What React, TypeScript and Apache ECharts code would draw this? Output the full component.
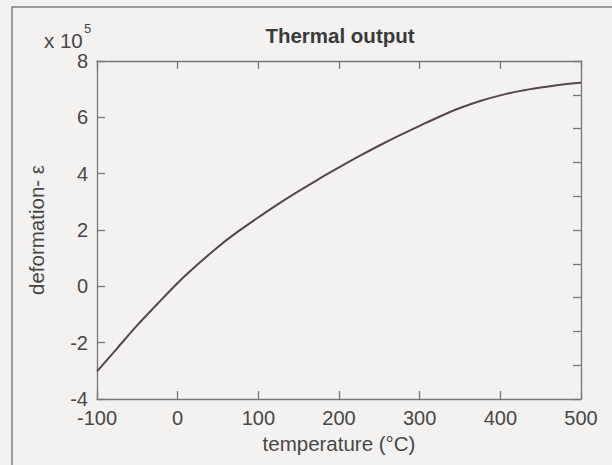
import React, { useEffect, useRef } from "react";
import * as echarts from "echarts";

const temperatures = [
  -100, -75, -50, -25, 0, 25, 50, 75, 100, 125, 150, 175, 200, 225, 250, 275, 300, 325, 350, 375, 400, 425, 450, 475, 500,
];
const deformation = [
  -3.02, -2.2, -1.38, -0.62, 0.12, 0.78, 1.4, 1.95, 2.45, 2.93, 3.38, 3.81, 4.22, 4.62, 5.0, 5.36, 5.7, 6.03, 6.33, 6.58,
  6.78, 6.94, 7.06, 7.16, 7.23,
];

const titleText = "Thermal output";
const xName = "temperature (\u00b0C)";
const yName = "deformation- \u03b5";

export default function App() {
  const ref = useRef<HTMLDivElement>(null);
  useEffect(() => {
    if (!ref.current) return;
    const chart = echarts.init(ref.current, undefined, { renderer: "svg" });
    const textColor = "#474747";
    const axisColor = "#777777";
    const font = "'Liberation Sans', Arial, sans-serif";
    const tickCommon = { show: true, inside: true, length: 8, lineStyle: { color: axisColor, width: 1.3 } };
    chart.setOption({
      animation: false,
      backgroundColor: "#f4f2f1",
      grid: { left: 97, top: 61, right: 31, bottom: 66, containLabel: false },
      xAxis: [
        {
          type: "value",
          min: -100,
          max: 500,
          interval: 100,
          position: "bottom",
          name: xName,
          nameLocation: "middle",
          nameGap: 34,
          nameTextStyle: { color: textColor, fontSize: 20.5, fontFamily: font },
          axisLine: { show: true, onZero: false, lineStyle: { color: axisColor, width: 1.3 } },
          axisTick: tickCommon,
          axisLabel: { color: textColor, fontSize: 20, fontFamily: font, margin: 9 },
          splitLine: { show: false },
        },
        {
          type: "value",
          min: -100,
          max: 500,
          interval: 100,
          position: "top",
          axisLine: { show: true, onZero: false, lineStyle: { color: axisColor, width: 1.3 } },
          axisTick: tickCommon,
          axisLabel: { show: false },
          splitLine: { show: false },
        },
      ],
      yAxis: [
        {
          type: "value",
          min: -4,
          max: 8,
          interval: 2,
          position: "left",
          name: yName,
          nameLocation: "middle",
          nameGap: 50,
          nameTextStyle: { color: textColor, fontSize: 20.5, fontFamily: font },
          axisLine: { show: true, onZero: false, lineStyle: { color: axisColor, width: 1.3 } },
          axisTick: tickCommon,
          axisLabel: { color: textColor, fontSize: 20, fontFamily: font, margin: 9 },
          splitLine: { show: false },
        },
        {
          type: "value",
          min: 0,
          max: 10,
          interval: 1,
          position: "right",
          axisLine: { show: true, onZero: false, lineStyle: { color: axisColor, width: 1.3 } },
          axisTick: tickCommon,
          axisLabel: { show: false },
          splitLine: { show: false },
        },
      ],
      graphic: [
        {
          type: "rect",
          shape: { x: 12, y: 7, width: 700, height: 600 },
          style: { fill: "none", stroke: "#808080", lineWidth: 1.5 },
          silent: true,
        },
        {
          type: "text",
          x: 340,
          y: 35,
          style: {
            text: titleText,
            fill: "#3a3a3a",
            font: `bold 20.5px ${font}`,
            textAlign: "center",
            textVerticalAlign: "middle",
          },
        },
        {
          type: "text",
          x: 44,
          y: 40,
          style: {
            text: "x 10",
            fill: textColor,
            font: `20.5px ${font}`,
            textAlign: "left",
            textVerticalAlign: "middle",
          },
        },
        {
          type: "text",
          x: 84,
          y: 28,
          style: {
            text: "5",
            fill: textColor,
            font: `13px ${font}`,
            textAlign: "left",
            textVerticalAlign: "middle",
          },
        },
      ],
      series: [
        {
          type: "line",
          xAxisIndex: 0,
          yAxisIndex: 0,
          data: temperatures.map((t, i) => [t, deformation[i]]),
          smooth: 0.3,
          showSymbol: false,
          lineStyle: { color: "#55464e", width: 2 },
        },
      ],
    });
    return () => chart.dispose();
  }, []);
  return (
    <div
      ref={ref}
      style={{ position: "fixed", left: 0, top: 0, width: 612, height: 465 }}
    />
  );
}
